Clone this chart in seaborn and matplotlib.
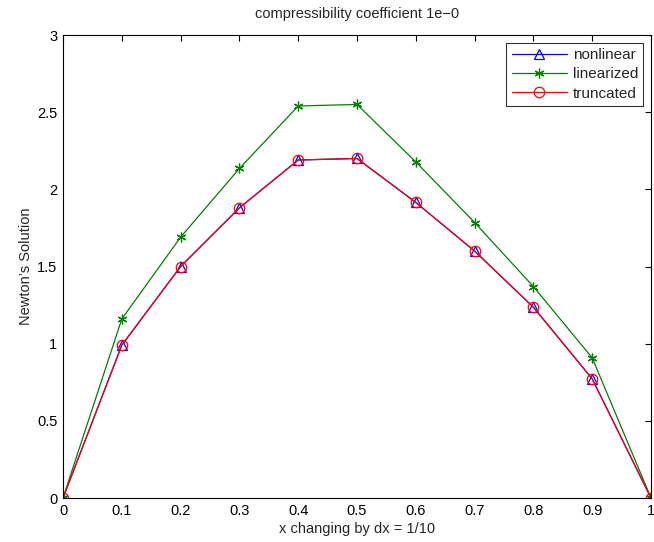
import matplotlib
matplotlib.use("Agg")
import matplotlib.pyplot as plt
import seaborn as sns
import pandas as pd

x = [0.0, 0.1, 0.2, 0.3, 0.4, 0.5, 0.6, 0.7, 0.8, 0.9, 1.0]
nonlinear = [0.0, 0.99, 1.50, 1.88, 2.19, 2.20, 1.915, 1.60, 1.236, 0.772, 0.0]
linearized = [0.0, 1.16, 1.69, 2.135, 2.54, 2.55, 2.178, 1.785, 1.37, 0.908, 0.0]
truncated = [0.0, 0.99, 1.50, 1.88, 2.19, 2.20, 1.915, 1.60, 1.236, 0.772, 0.0]
xticks = [0, 0.1, 0.2, 0.3, 0.4, 0.5, 0.6, 0.7, 0.8, 0.9, 1]
yticks = [0, 0.5, 1, 1.5, 2, 2.5, 3]

sns.set_style("white")
plt.rcParams['font.family'] = ['Liberation Sans', 'DejaVu Sans']

fig = plt.figure(figsize=(6.54, 5.42), dpi=100)
ax = fig.add_axes([63/654, 1-498/542, (651-63)/654, (498-35)/542])

series = [
    ("nonlinear", nonlinear, "blue", "^", 7.5),
    ("linearized", linearized, "green", (6, 2, 0), 7),
    ("truncated", truncated, "red", "o", 7.5),
]
for name, vals, col, mk, ms in series:
    df = pd.DataFrame({"x": x, "y": vals})
    sns.lineplot(data=df, x="x", y="y", ax=ax, color=col, marker=mk,
                 markersize=ms, markerfacecolor="none", markeredgecolor=col,
                 markeredgewidth=0.9, linewidth=0.9, label=name)

fs = 10.5
ax.set_xlim(0, 1)
ax.set_ylim(0, 3)
ax.set_xticks(xticks)
ax.set_xticklabels([f"{t:g}" for t in xticks])
ax.set_yticks(yticks)
ax.set_yticklabels([f"{t:g}" for t in yticks])
ax.tick_params(direction="in", length=4, top=True, right=True, labelsize=fs, colors="black", pad=4)
for s in ax.spines.values():
    s.set_visible(True)
    s.set_color("black")
    s.set_linewidth(0.8)
ax.set_xlabel("x changing by dx = 1/10", fontsize=fs, labelpad=3)
ax.set_ylabel("Newton\u2019s Solution", fontsize=fs, labelpad=3)
ax.set_title("compressibility coefficient 1e\u22120", fontsize=fs, pad=12)
leg = ax.legend(loc="upper right", fontsize=11, frameon=True, fancybox=False,
                edgecolor="black", borderaxespad=0.5, handlelength=3.6,
                labelspacing=0.35, borderpad=0.35, handletextpad=0.4)
leg.get_frame().set_linewidth(0.8)
fig.savefig("out.png", dpi=100, facecolor="white")
